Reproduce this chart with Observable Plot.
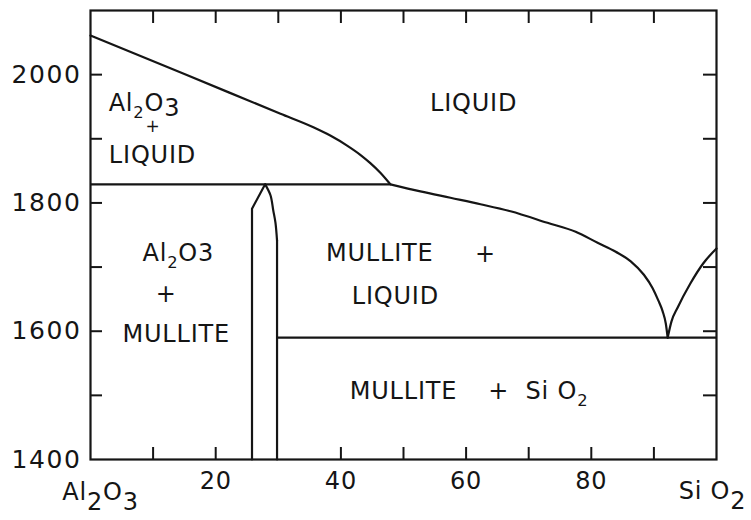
<!DOCTYPE html>
<html>
<head>
<meta charset="utf-8">
<script src="https://cdn.jsdelivr.net/npm/d3@7"></script>
<script src="https://cdn.jsdelivr.net/npm/@observablehq/plot@0.6"></script>
<style>
  html, body { margin: 0; padding: 0; background: #fff; }
</style>
</head>
<body>
<div id="chart"></div>
<script>
// Phase boundaries, as [wt% SiO2, temperature °C]
const aluminaLiquidus = [[0,2061],[15,2001],[30.35,1939],[35.6,1918],[38.3,1905],[41.05,1889],[43.1,1875],[44.7,1862],[46.3,1847],[47.9,1829]];
const mulliteLiquidus = [[47.9,1829],[52.7,1818],[57.5,1808],[62.3,1798],[67.1,1787],[73.0,1769],[77.5,1755],[81.0,1738],[83.9,1724],[86.3,1709],[88.4,1688],[89.8,1667],[90.7,1648],[91.4,1631],[91.9,1612],[92.2,1590]];
const silicaLiquidus = [[92.2,1590],[92.8,1615],[93.8,1637],[95.8,1674],[97.9,1706],[100,1729]];
const mulliteLeft = [[25.8,1400],[25.8,1791],[27.9,1829]];
const mulliteTop = [[27.9,1829],[28.75,1812],[29.2,1788],[29.55,1769],[29.8,1741]];
const mulliteRight = [[29.8,1741],[29.8,1400]];
const eutectics = [{t: 1829, x1: 0, x2: 47.9}, {t: 1590, x1: 29.8, x2: 100}];

// Ticks
const xTickLabels = [20, 40, 60, 80];
const yTickLabels = [1400, 1600, 1800, 2000];
const topTicks = [10, 20, 30, 40, 50, 60, 70, 80, 90];
const bottomTicks = [10, 20, 40, 50, 60, 70, 80, 90];
const sideTicks = [1500, 1600, 1700, 1800, 1900, 2000];

// Region labels ("_" small subscript, "=" slightly lowered digit)
const regionLabels = [
  {text: "Al_2O=3", x: 2.9, t: 1956, anchor: "start"},
  {text: "LIQUID", x: 9.9, t: 1874, anchor: "middle"},
  {text: "LIQUID", x: 61.2, t: 1955, anchor: "middle"},
  {text: "Al_2O3", x: 8.3, t: 1721, anchor: "start"},
  {text: "MULLITE", x: 13.7, t: 1595, anchor: "middle"},
  {text: "MULLITE", x: 46.2, t: 1721, anchor: "middle"},
  {text: "LIQUID", x: 48.7, t: 1654, anchor: "middle"},
  {text: "MULLITE", x: 50.0, t: 1506, anchor: "middle"},
  {text: "Si O_2", x: 69.5, t: 1506, anchor: "start"}
];
const plusSigns = [{x: 12.1, t: 1657}, {x: 63.1, t: 1720}, {x: 65.2, t: 1506}];
const smallPlus = [{x: 10.0, t: 1919}];
// End-member labels ("~" lowered full-size digit)
const endMembers = [{text: "Al~2O~3", x: 0}, {text: "Si O~2", x: 100}];

const ink = "#151515";
const lineStyle = {x: d => d[0], y: d => d[1], stroke: ink, strokeWidth: 2.2};

const chart = Plot.plot({
  width: 751,
  height: 520,
  marginLeft: 90,
  marginRight: 35,
  marginTop: 10,
  marginBottom: 61,
  x: {domain: [0, 100], label: null},
  y: {domain: [1400, 2100], label: null},
  style: {fontFamily: "DejaVu Sans", background: "#fff", color: ink, letterSpacing: "0.8px", overflow: "visible"},
  marks: [
    Plot.frame({stroke: ink, strokeWidth: 2.2}),
    Plot.tickX(topTicks, {x: d => d, insetBottom: 436, stroke: ink, strokeWidth: 2}),
    Plot.tickX(bottomTicks, {x: d => d, insetTop: 437, stroke: ink, strokeWidth: 2}),
    Plot.tickY(sideTicks, {y: d => d, insetRight: 614, stroke: ink, strokeWidth: 2}),
    Plot.tickY(sideTicks, {y: d => d, insetLeft: 613, stroke: ink, strokeWidth: 2}),
    Plot.axisX(xTickLabels, {tickSize: 0, tickPadding: 12, fontSize: 24, label: null, tickFormat: d => String(d)}),
    Plot.axisY(yTickLabels, {tickSize: 0, tickPadding: 9, fontSize: 25, label: null, tickFormat: d => String(d)}),
    Plot.line(aluminaLiquidus, {...lineStyle, curve: "monotone-x"}),
    Plot.line(mulliteLiquidus, {...lineStyle, curve: "monotone-x"}),
    Plot.line(silicaLiquidus, {...lineStyle, curve: "monotone-x"}),
    Plot.line(mulliteLeft, {...lineStyle, curve: "linear"}),
    Plot.line(mulliteTop, {...lineStyle, curve: "catmull-rom"}),
    Plot.line(mulliteRight, {...lineStyle, curve: "linear"}),
    Plot.ruleY(eutectics, {y: "t", x1: "x1", x2: "x2", stroke: ink, strokeWidth: 2.2}),
    Plot.text(regionLabels, {filter: d => d.anchor === "middle", x: "x", y: "t", text: "text", textAnchor: "middle", fontSize: 24, fill: ink}),
    Plot.text(regionLabels, {filter: d => d.anchor === "start", x: "x", y: "t", text: "text", textAnchor: "start", fontSize: 24, fill: ink}),
    Plot.text(plusSigns, {x: "x", y: "t", text: () => "+", fontSize: 24, fill: ink}),
    Plot.text(smallPlus, {x: "x", y: "t", text: () => "+", fontSize: 17, fill: ink}),
    Plot.text(endMembers, {filter: d => d.x === 0, x: "x", y: () => 1400, text: "text", fontSize: 24, dy: 33, dx: 10, fill: ink}),
    Plot.text(endMembers, {filter: d => d.x === 100, x: "x", y: () => 1400, text: "text", fontSize: 24, dy: 32, dx: -4, fill: ink})
  ]
});

document.getElementById("chart").appendChild(chart);

// Rebuild labels with subscripts as tspans (text stays real text)
d3.select(chart).selectAll("text").each(function() {
  const el = this;
  const s = el.textContent;
  if (!/[_~=]/.test(s)) return;
  const tokens = [...s.matchAll(/([_~=])(\d+)|([^_~=]+)/g)];
  el.textContent = "";
  let shift = 0;
  for (const m of tokens) {
    let str, d = 0, size = null;
    if (m[1]) {
      str = m[2];
      if (m[1] === "_") { d = 7; size = "0.68em"; }
      else if (m[1] === "~") { d = 10; }
      else { d = 5; }
    } else {
      str = m[3];
    }
    const ts = document.createElementNS("http://www.w3.org/2000/svg", "tspan");
    ts.textContent = str;
    if (d - shift !== 0) ts.setAttribute("dy", d - shift);
    if (size) ts.setAttribute("font-size", size);
    shift = d;
    el.appendChild(ts);
  }
});
d3.select(chart).selectAll("[aria-label='y-axis tick label'] text").style("letter-spacing", "1.6px");
</script>
</body>
</html>
